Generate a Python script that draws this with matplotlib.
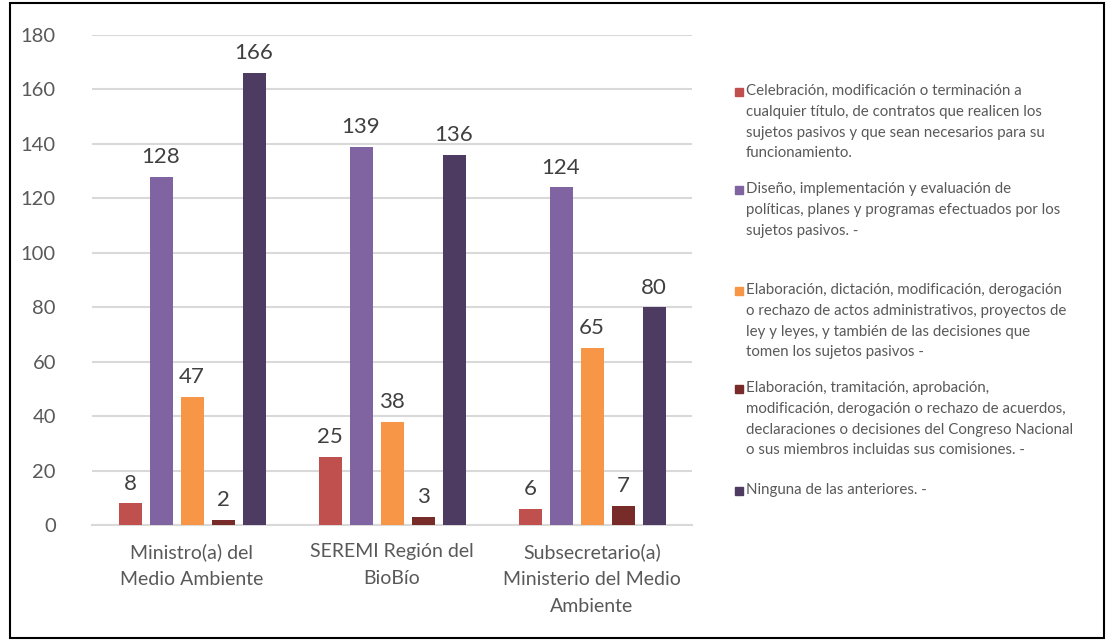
import numpy as np
import matplotlib.pyplot as plt
from matplotlib.patches import Rectangle

plt.rcParams['font.family'] = ['Lato', 'DejaVu Sans']

categories = ['Ministro(a) del\nMedio Ambiente', 'SEREMI Región del\nBioBío',
              'Subsecretario(a)\nMinisterio del Medio\nAmbiente']
series = [
    'Celebración, modificación o terminación a\ncualquier título, de contratos que realicen los\nsujetos pasivos y que sean necesarios para su\nfuncionamiento.',
    'Diseño, implementación y evaluación de\npolíticas, planes y programas efectuados por los\nsujetos pasivos. -',
    'Elaboración, dictación, modificación, derogación\no rechazo de actos administrativos, proyectos de\nley y leyes, y también de las decisiones que\ntomen los sujetos pasivos -',
    'Elaboración, tramitación, aprobación,\nmodificación, derogación o rechazo de acuerdos,\ndeclaraciones o decisiones del Congreso Nacional\no sus miembros incluidas sus comisiones. -',
    'Ninguna de las anteriores. -',
]
values = [
    [8, 25, 6],
    [128, 139, 124],
    [47, 38, 65],
    [2, 3, 7],
    [166, 136, 80],
]
colors = ['#C0504D', '#8064A2', '#F79646', '#772C2A', '#4D3B62']

fig = plt.figure(figsize=(11.11, 6.41), dpi=100)
ax = fig.add_axes([92/1111, 116/641, 600/1111, 490/641])

x = np.arange(len(categories))
width = 0.115
pitch = 0.155
for i, (vals, c) in enumerate(zip(values, colors)):
    pos = x + (i - 2) * pitch
    bars = ax.bar(pos, vals, width, color=c, zorder=3)
    for b, v in zip(bars, vals):
        ax.annotate(str(v), (b.get_x() + b.get_width()/2, v), xytext=(0, 7),
                    textcoords='offset points', ha='center', va='bottom',
                    fontsize=16, color='#404040')

ax.set_xlim(-0.5, 2.5)
ax.set_ylim(0, 180)
ax.set_yticks(np.arange(0, 181, 20))
ax.set_xticks(x)
ax.set_xticklabels(categories, fontsize=14, color='#595959', linespacing=1.7)
ax.tick_params(axis='y', labelsize=14.5, labelcolor='#595959', length=0, pad=26)
ax.tick_params(axis='x', length=0, pad=13)
ax.yaxis.grid(True, color='#D9D9D9', linewidth=1.5, zorder=0)
for s in ['top', 'right', 'left']:
    ax.spines[s].set_visible(False)
ax.spines['bottom'].set_color('#D9D9D9')
ax.spines['bottom'].set_linewidth(1.5)

# legend drawn by hand so the swatch sits on the first line
ys = [92, 190, 291, 389, 491]
for lab, c, y in zip(series, colors, ys):
    fy = 1 - y/641
    fig.patches.append(Rectangle((735/1111, fy - 4/641), 8/1111, 8/641,
                                 transform=fig.transFigure, color=c))
    fig.text(746/1111, fy + 8/641, lab, fontsize=10.8, color='#595959',
             va='top', ha='left', linespacing=1.62)

fig.patches.append(Rectangle((10/1111, 3/641), 1094/1111, 635/641,
                             transform=fig.transFigure, fill=False,
                             edgecolor='black', linewidth=1.5))

plt.savefig('out.png', dpi=100)
